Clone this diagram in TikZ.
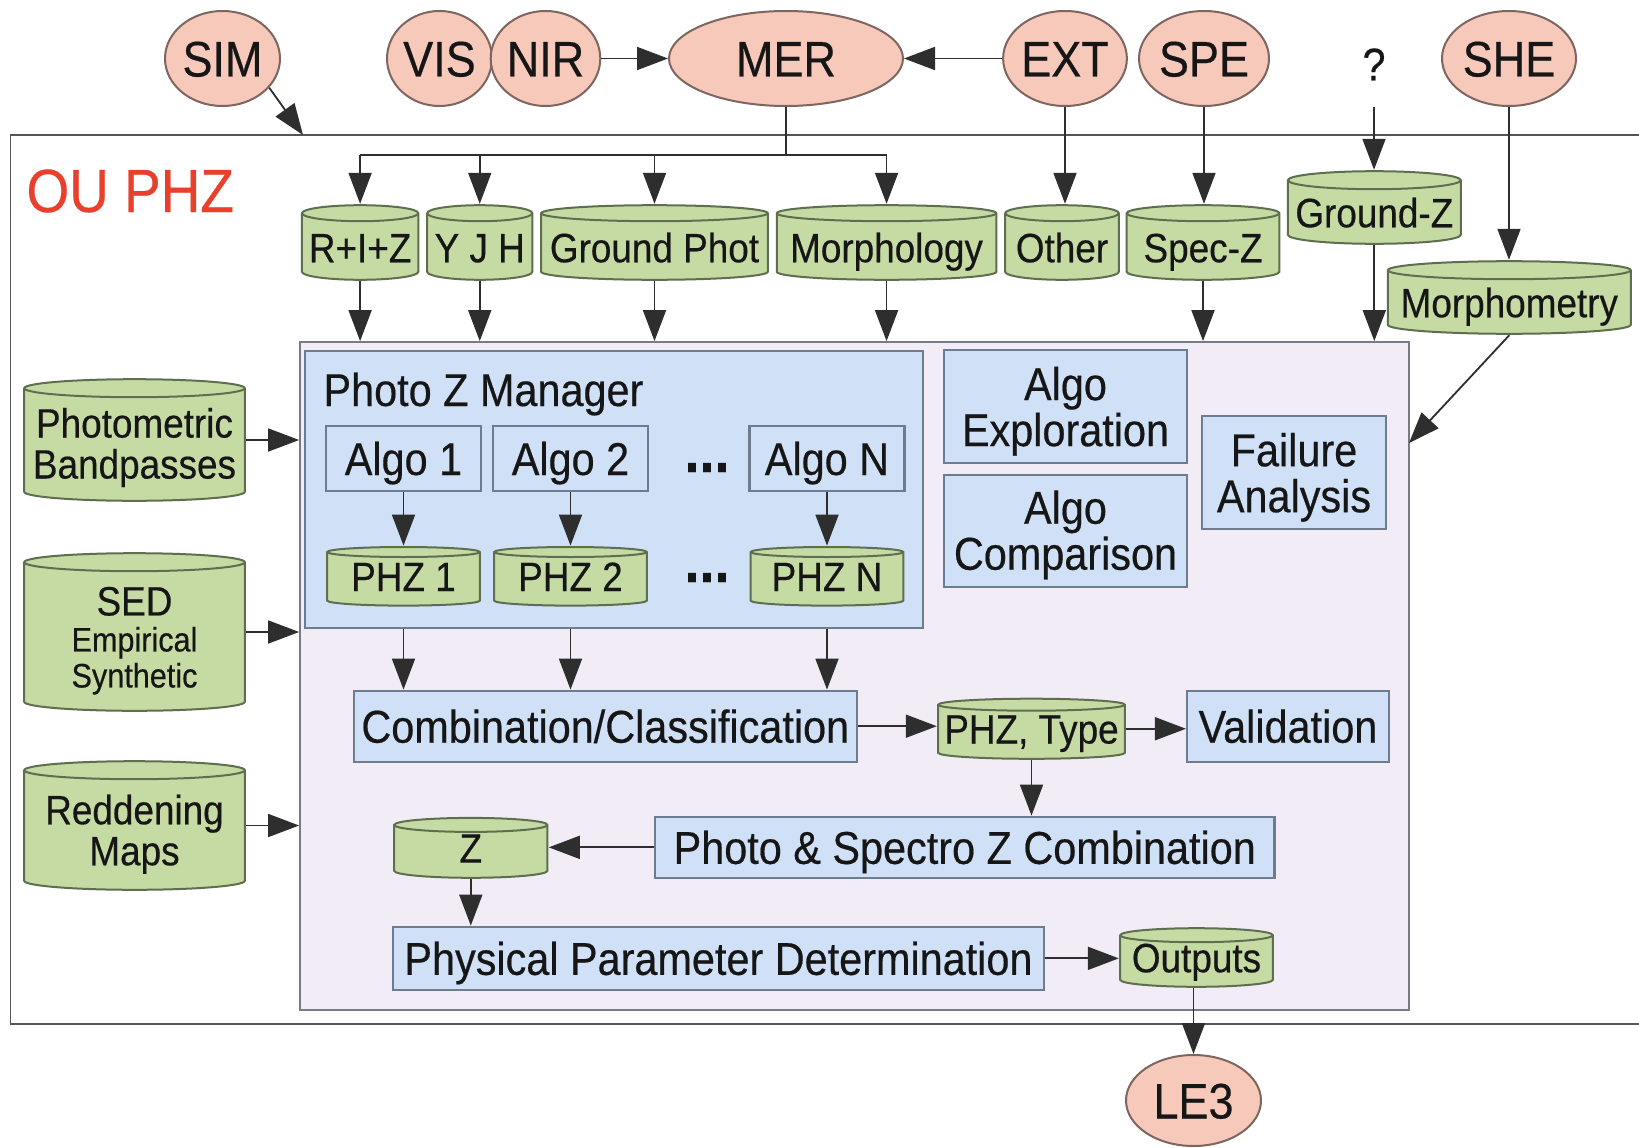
\documentclass[tikz,border=0pt]{standalone}
\usepackage{fontspec}
\setmainfont{Liberation Sans}[FakeStretch=0.9, FakeBold=0.4]
\usetikzlibrary{shapes.geometric,arrows.meta,calc}

\definecolor{srcfill}{HTML}{F7C9BB}
\definecolor{srcline}{HTML}{7D6560}
\definecolor{dbfill}{HTML}{C6DBA3}
\definecolor{dbline}{HTML}{5E6E4E}
\definecolor{procfill}{HTML}{CFE0F7}
\definecolor{procline}{HTML}{6F7C90}
\definecolor{oufill}{HTML}{F1ECF6}
\definecolor{ouline}{HTML}{7A7A86}
\definecolor{framegray}{HTML}{555555}
\definecolor{oured}{HTML}{E8402C}
\definecolor{wire}{HTML}{2E2E2E}
\definecolor{ink}{HTML}{161616}

\tikzset{drum rim/.store in=\drumrim, drum rim=8pt}
% invisible strut that pads the first line of a stacked label
\newcommand\toppad[1]{\rule{0pt}{#1}}

\begin{document}
\begin{tikzpicture}[x=1pt,y=1pt,
  every node/.style={text=ink},
  src/.style={ellipse, draw=srcline, fill=srcfill, line width=2pt, inner sep=0pt,
    minimum height=95pt, font=\fontsize{50}{50}\selectfont, text height=36pt, text depth=0pt},
  proc/.style={rectangle, draw=procline, fill=procfill, line width=2.2pt, inner sep=0pt,
    align=center, font=\fontsize{46}{46}\selectfont},
  oneline/.style={text height=33pt, text depth=0pt},
  dbline1/.style={text height=29.5pt, text depth=0pt},
  drum/.style={rectangle, inner sep=0pt, align=center, font=\fontsize{41}{41}\selectfont,
    path picture={
      \filldraw[fill=dbfill, draw=dbline, line width=2pt]
        let \p1=(path picture bounding box.south west),
            \p2=(path picture bounding box.north east),
            \n1={(\x2-\x1)/2-1.2pt} in
        (\x1+1.2pt,\y2-1.2pt-\drumrim) -- (\x1+1.2pt,\y1+1.2pt+\drumrim)
        arc[start angle=180, end angle=360, x radius=\n1, y radius=\drumrim]
        -- (\x2-1.2pt,\y2-1.2pt-\drumrim)
        arc[start angle=0, end angle=180, x radius=\n1, y radius=\drumrim] -- cycle;
      \draw[dbline, line width=2pt]
        let \p1=(path picture bounding box.south west),
            \p2=(path picture bounding box.north east),
            \n1={(\x2-\x1)/2-1.2pt} in
        (\x1+1.2pt,\y2-1.2pt-\drumrim)
        arc[start angle=180, end angle=360, x radius=\n1, y radius=\drumrim];
    }},
  tallcap/.style={text height=39.5pt, text depth=0pt},
  flow/.style={draw=wire, line width=1.8pt, -{Triangle[length=31pt,width=23pt]}},
  wireline/.style={draw=wire, line width=1.8pt},
]
\useasboundingbox (0,0) rectangle (1639,-1148);
\fill[white] (0,0) rectangle (1639,-1148);

% frame of the OU
\draw[framegray, line width=1.8pt] (1639,-135) -- (10.5,-135) -- (10.5,-1024) -- (1639,-1024);
\node[anchor=base west, text=oured, font=\fontsize{61}{61}\selectfont] (title) at (23,-212) {OU PHZ};

% external units
\node[src, minimum width=115pt] (sim) at (222.5,-58.5) {SIM};
\node[src, minimum width=105pt] (vis) at (439.5,-58.5) {VIS};
\node[src, minimum width=107pt] (nir) at (545.5,-58.5) {NIR};
\node[src, minimum width=234pt] (mer) at (786,-58.5) {MER};
\node[src, minimum width=122pt] (ext) at (1065,-58.5) {EXT};
\node[src, minimum width=130pt] (spe) at (1204,-58.5) {SPE};
\node[inner sep=0pt, minimum height=86pt, font=\fontsize{46}{46}\selectfont, oneline] (qmark) at (1374,-64) {?};
\node[src, minimum width=134pt] (she) at (1509,-58.5) {SHE};
\node[src, minimum width=135pt, minimum height=91pt] (le3) at (1193.5,-1100.5) {LE3};

% processing area
\node[draw=ouline, fill=oufill, line width=1.8pt, inner sep=0pt,
      minimum width=1109pt, minimum height=668pt] (phz) at (854.5,-676) {};

% input catalogues
\node[drum, tallcap, minimum width=118.8pt, minimum height=77pt] (riz) at (360.1,-242.5) {R+I+Z};
\node[drum, tallcap, minimum width=107.5pt, minimum height=77pt] (yjh) at (479.75,-242.5) {Y J H};
\node[drum, tallcap, minimum width=229pt, minimum height=77pt] (gphot) at (654.5,-242.5) {Ground Phot};
\node[drum, tallcap, minimum width=221.9pt, minimum height=77pt] (morph) at (886.55,-242.5) {Morphology};
\node[drum, tallcap, minimum width=116pt, minimum height=77pt] (other) at (1062,-242.5) {Other};
\node[drum, tallcap, minimum width=155pt, minimum height=77pt] (specz) at (1203,-242.5) {Spec-Z};
\node[drum, tallcap, drum rim=9pt, minimum width=175.3pt, minimum height=75pt] (groundz) at (1374.3,-207.5) {Ground-Z};
\node[drum, tallcap, drum rim=9pt, minimum width=245.3pt, minimum height=75pt] (mmetry) at (1509.3,-297.5) {Morphometry};

% auxiliary data
\node[drum, drum rim=9pt, minimum width=223pt, minimum height=124pt] (pband) at (134.5,-440)
  {\toppad{44.6pt}Photometric\\Bandpasses};
\node[drum, drum rim=9pt, minimum width=223pt, minimum height=160pt, font=\fontsize{34}{36}\selectfont] (sed) at (134.5,-632)
  {{\fontsize{41}{36}\selectfont\toppad{46pt}SED}\\Empirical\\Synthetic};
\node[drum, drum rim=9pt, minimum width=223pt, minimum height=131pt] (redden) at (134.5,-825.5)
  {\toppad{47pt}Reddening\\Maps};

% photo-z manager
\node[proc, minimum width=618pt, minimum height=277pt] (pzm) at (614,-489.5) {};
\node[anchor=base west, font=\fontsize{46}{46}\selectfont] (pzmtitle) at (320,-406) {Photo Z Manager};
\node[proc, oneline, minimum width=155pt, minimum height=65pt] (algo1) at (403.5,-458.5) {Algo 1};
\node[proc, oneline, minimum width=155pt, minimum height=65pt] (algo2) at (570.5,-458.5) {Algo 2};
\node[proc, oneline, minimum width=155pt, minimum height=65pt] (algoN) at (827,-458.5) {Algo N};
\node[anchor=base, font=\fontsize{60}{60}\selectfont\bfseries] (dotsA) at (707,-472) {...};
\node[drum, dbline1, drum rim=5pt, minimum width=155pt, minimum height=61pt] (phz1) at (403.5,-576.3) {PHZ 1};
\node[drum, dbline1, drum rim=5pt, minimum width=155pt, minimum height=61pt] (phz2) at (570.5,-576.3) {PHZ 2};
\node[drum, dbline1, drum rim=5pt, minimum width=155pt, minimum height=61pt] (phzN) at (827,-576.3) {PHZ N};
\node[anchor=base, font=\fontsize{60}{60}\selectfont\bfseries] (dotsB) at (707,-582) {...};

% side studies
\node[proc, minimum width=243pt, minimum height=112.7pt] (explore) at (1065.5,-406.4)
  {\toppad{43pt}Algo\\Exploration};
\node[proc, minimum width=243pt, minimum height=112pt] (compare) at (1065.5,-531)
  {\toppad{41pt}Algo\\Comparison};
\node[proc, minimum width=184pt, minimum height=113pt] (failure) at (1294,-472.5)
  {\toppad{43pt}Failure\\Analysis};

% pipeline
\node[proc, oneline, minimum width=503.4pt, minimum height=71pt] (comb) at (605.3,-726.2) {Combination/Classification};
\node[drum, dbline1, drum rim=6pt, minimum width=189pt, minimum height=62.5pt] (phztype) at (1031.5,-728.75) {PHZ, Type};
\node[proc, oneline, minimum width=202pt, minimum height=71pt] (valid) at (1288,-726.2) {Validation};
\node[proc, oneline, minimum width=619.5pt, minimum height=61.3pt] (ps) at (964.75,-847.35) {Photo \& Spectro Z Combination};
\node[drum, dbline1, drum rim=7pt, minimum width=155.6pt, minimum height=62.3pt] (zdb) at (470.8,-847.85) {Z};
\node[proc, oneline, minimum width=651pt, minimum height=63.3pt] (phys) at (718.5,-958.35) {Physical Parameter Determination};
\node[drum, dbline1, drum rim=7pt, minimum width=155pt, minimum height=61pt] (outputs) at (1196.5,-957.5) {Outputs};

% connectors between the units
\coordinate (simtip) at (303,-135);
\draw[flow] (sim.-32) -- (simtip);
\draw[flow] (nir) -- (mer);
\draw[flow] (ext) -- (mer);

\coordinate (bus) at (0,-155);
\draw[wireline] (mer.south) -- (mer.south |- bus);
\draw[wireline] (riz.north |- bus) -- (morph.north |- bus);
\foreach \c in {riz,yjh,gphot,morph}
  \draw[flow] (\c.north |- bus) -- (\c.north);
\draw[flow] (ext.south) -- (ext.south |- other.north);
\draw[flow] (spe.south) -- (spe.south |- specz.north);
\draw[flow] (qmark.south) -- (qmark.south |- groundz.north);
\draw[flow] (she.south) -- (she.south |- mmetry.north);

\foreach \c in {riz,yjh,gphot,morph,specz,groundz}
  \draw[flow] (\c.south) -- (\c.south |- phz.north);
\coordinate (mmhit) at (1409,-443);
\draw[flow] (mmetry.south) -- (mmhit);

\foreach \c in {pband,sed,redden}
  \draw[flow] (\c.east) -- (\c.east -| phz.west);

% connectors inside the processing area
\draw[flow] (algo1) -- (phz1);
\draw[flow] (algo2) -- (phz2);
\draw[flow] (algoN) -- (phzN);
\foreach \c in {phz1,phz2,phzN}
  \draw[flow] (pzm.south -| \c) -- (comb.north -| \c);
\draw[flow] (comb.east) -- (comb.east -| phztype.west);
\draw[flow] (phztype.east) -- (phztype.east -| valid.west);
\draw[flow] (phztype.south) -- (phztype.south |- ps.north);
\draw[flow] (ps.west) -- (ps.west -| zdb.east);
\draw[flow] (zdb.south) -- (zdb.south |- phys.north);
\draw[flow] (phys.east) -- (phys.east -| outputs.west);
\draw[flow] (le3.north |- outputs.south) -- (le3.north);
\end{tikzpicture}
\end{document}
